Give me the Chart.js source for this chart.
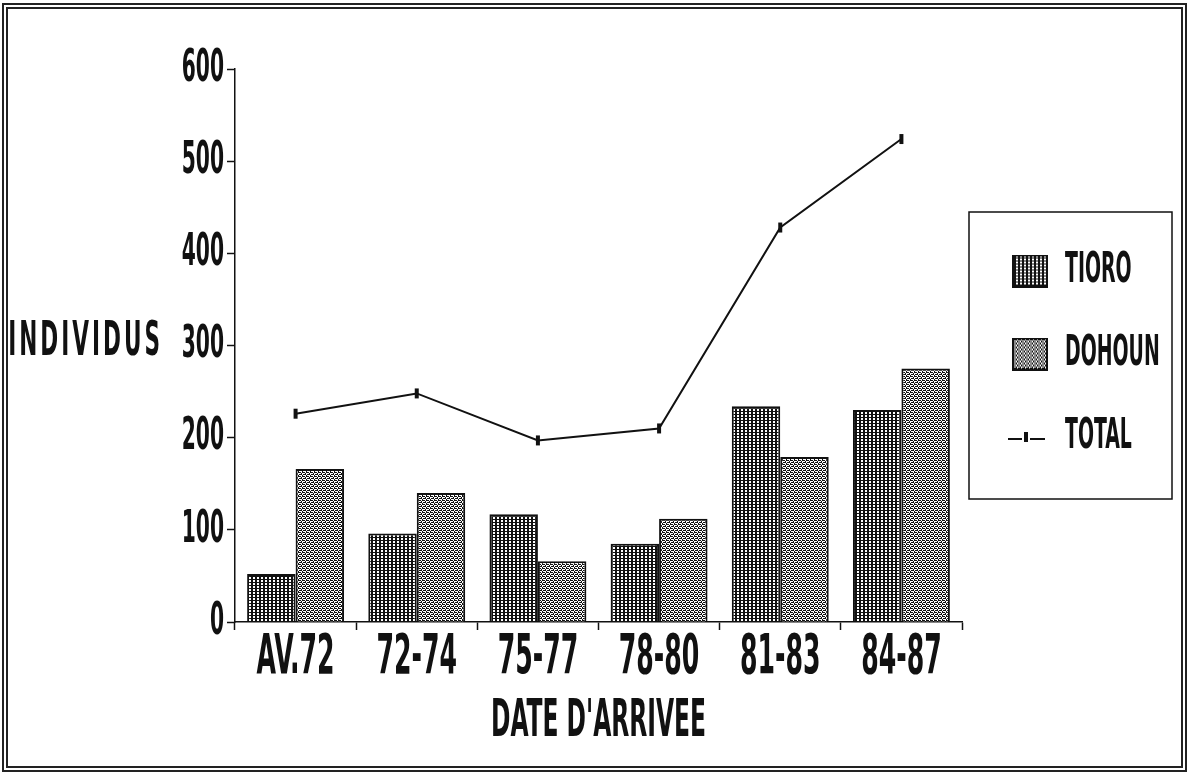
<!DOCTYPE html>
<html>
<head>
<meta charset="utf-8">
<script src="https://cdn.jsdelivr.net/npm/chart.js@4/dist/chart.umd.min.js"></script>
<style>
    html, body { margin: 0; padding: 0; background: #fff; }
    #wrap { position: relative; width: 1189px; height: 775px; }
    #frame {
        position: absolute; left: 2px; top: 3px; width: 1173px; height: 757px;
        border: 6px double #222;
    }
    #chartArrivee { position: absolute; left: 0; top: 0; }
</style>
</head>
<body>
<div id="wrap">
    <div id="frame"></div>
    <canvas id="chartArrivee" width="1189" height="775"></canvas>
</div>
<script>
const categories = ['AV.72', '72-74', '75-77', '78-80', '81-83', '84-87'];
const tioro = [52, 96, 117, 85, 234, 230];
const dohoun = [166, 140, 66, 112, 179, 275];
const total = [226, 248, 197, 210, 428, 524];
const yTicks = [0, 100, 200, 300, 400, 500, 600];

const FONT = "'DejaVu Sans Condensed', 'DejaVu Sans', sans-serif";
const INK = '#111';
const NARROW = 0.5; // the plotter font is very narrow, squeeze glyphs sideways

// bitmap tiles for the bar fills, 1 = ink
const TIORO_TILE = ['1111', '1001', '1001'];
const DOHOUN_TILE = ['1011', '0100', '1101', '0010'];

function condenseText(ctx, k) {
    const fill = ctx.fillText;
    ctx.fillText = function (text, x, y, maxWidth) {
        this.save();
        this.translate(x, y);
        this.scale(k, 1);
        if (maxWidth === undefined) {
            fill.call(this, text, 0, 0);
        } else {
            fill.call(this, text, 0, 0, maxWidth / k);
        }
        this.restore();
    };
}

function makePattern(ctx, rows) {
    const tile = document.createElement('canvas');
    tile.width = rows[0].length;
    tile.height = rows.length;
    const t = tile.getContext('2d');
    t.fillStyle = '#fff';
    t.fillRect(0, 0, tile.width, tile.height);
    t.fillStyle = INK;
    rows.forEach((row, y) => {
        for (let x = 0; x < row.length; x++) {
            if (row[x] === '1') t.fillRect(x, y, 1, 1);
        }
    });
    return ctx.createPattern(tile, 'repeat');
}

// legend swatch for a bar series (left part of the image stays empty)
function swatch(rows) {
    const c = document.createElement('canvas');
    c.width = 49;
    c.height = 33;
    const t = c.getContext('2d');
    t.fillStyle = makePattern(t, rows);
    t.fillRect(13, 0, 36, 33);
    t.strokeStyle = INK;
    t.lineWidth = 2;
    t.strokeRect(14, 1, 34, 31);
    return c;
}

// legend icon for the line series: -|-
function totalIcon() {
    const c = document.createElement('canvas');
    c.width = 49;
    c.height = 12;
    const t = c.getContext('2d');
    t.fillStyle = INK;
    t.fillRect(9, 7, 14, 2);
    t.fillRect(31, 7, 15, 2);
    t.fillRect(25, 1, 4, 10);
    return c;
}

const legendFrame = {
    id: 'legendFrame',
    afterDraw(chart) {
        const lg = chart.legend;
        const hb = lg.legendHitBoxes;
        if (!hb || !hb.length) return;
        const ctx = chart.ctx;
        ctx.save();
        ctx.strokeStyle = INK;
        ctx.lineWidth = 1.5;
        const half = hb[0].height / 2;
        const top = hb[0].top + half - 59;
        const bottom = hb[hb.length - 1].top + half + 62;
        ctx.strokeRect(lg.left + 7, top, 1172 - lg.left - 7, bottom - top);
        ctx.restore();
    }
};

// horizontal y axis title, level with the 300 tick
const yTitle = {
    id: 'yTitle',
    afterDraw(chart) {
        const ctx = chart.ctx;
        const y = chart.scales.y.getPixelForValue(300);
        ctx.save();
        ctx.font = 'bold 48px ' + FONT;
        ctx.letterSpacing = '6px';
        ctx.fillStyle = INK;
        ctx.textAlign = 'right';
        ctx.textBaseline = 'middle';
        ctx.fillText('INDIVIDUS', 163, y - 3);
        ctx.restore();
    }
};

const ctx = document.getElementById('chartArrivee').getContext('2d');
condenseText(ctx, NARROW);

const tioroFill = makePattern(ctx, TIORO_TILE);
const dohounFill = makePattern(ctx, DOHOUN_TILE);
const legendIcons = [swatch(TIORO_TILE), swatch(DOHOUN_TILE), totalIcon()];

new Chart(ctx, {
    type: 'bar',
    data: {
        labels: categories,
        datasets: [{
            label: 'TIORO',
            data: tioro,
            backgroundColor: tioroFill,
            borderColor: INK,
            borderWidth: 2,
            categoryPercentage: 0.8,
            barPercentage: 1.0
        }, {
            label: 'DOHOUN',
            data: dohoun,
            backgroundColor: dohounFill,
            borderColor: INK,
            borderWidth: 2,
            categoryPercentage: 0.8,
            barPercentage: 1.0
        }, {
            type: 'line',
            label: 'TOTAL',
            data: total,
            borderColor: INK,
            backgroundColor: INK,
            borderWidth: 2,
            tension: 0,
            fill: false,
            pointStyle: 'line',
            pointRotation: 90,
            pointRadius: 5,
            pointBorderWidth: 4,
            pointBorderColor: INK
        }]
    },
    options: {
        responsive: false,
        animation: false,
        devicePixelRatio: 1,
        layout: { padding: { top: 69, right: 17, bottom: 0, left: 0 } },
        scales: {
            x: {
                grid: { drawOnChartArea: false, tickLength: 8, color: INK, tickWidth: 1.5 },
                border: { color: INK, width: 1.5 },
                ticks: {
                    color: INK,
                    font: { family: FONT, size: 56, weight: 'bold', lineHeight: 1 },
                    padding: 0,
                    maxRotation: 0,
                    autoSkip: false
                },
                title: {
                    display: true,
                    text: "DATE D'ARRIVEE",
                    color: INK,
                    font: { family: FONT, size: 52, weight: 'bold' },
                    padding: { top: 0, bottom: 21 }
                },
                afterFit(scale) { scale.height = 153; }
            },
            y: {
                min: 0,
                max: 600,
                afterBuildTicks(scale) { scale.ticks = yTicks.map(v => ({ value: v })); },
                grid: { drawOnChartArea: false, tickLength: 8, color: INK, tickWidth: 1.5 },
                border: { color: INK, width: 1.5 },
                ticks: { color: INK, font: { family: FONT, size: 45, weight: 'bold' }, padding: 3 },
                afterFit(scale) { scale.width = 235; }
            }
        },
        plugins: {
            tooltip: { enabled: false },
            legend: {
                position: 'right',
                align: 'center',
                fullSize: false,
                maxWidth: 210,
                title: {
                    display: true,
                    text: '',
                    font: { size: 10, lineHeight: 1 },
                    padding: { top: 7, bottom: 0 }
                },
                labels: {
                    color: INK,
                    font: { family: FONT, size: 42, weight: 'bold' },
                    usePointStyle: true,
                    boxHeight: 33,
                    pointStyleWidth: 41,
                    padding: 41,
                    generateLabels(chart) {
                        const items = Chart.defaults.plugins.legend.labels.generateLabels(chart);
                        items.forEach(it => {
                            it.pointStyle = legendIcons[it.datasetIndex];
                            it.rotation = 0;
                        });
                        return items;
                    }
                }
            }
        }
    },
    plugins: [legendFrame, yTitle]
});
</script>
</body>
</html>
